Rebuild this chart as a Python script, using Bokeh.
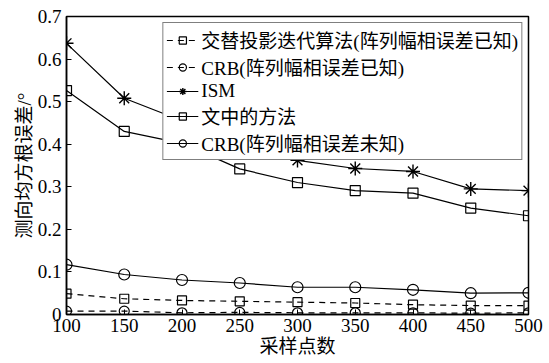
from bokeh.plotting import figure
from bokeh.models import Legend, LegendItem, Range1d, FixedTicker
from bokeh.embed import file_html
from bokeh.resources import INLINE

# Number of samples (snapshots)
samples = [100, 150, 200, 250, 300, 350, 400, 450, 500]

# RMSE of direction estimate (degrees)
alt_proj_known = [0.049, 0.037, 0.033, 0.031, 0.029, 0.027, 0.023, 0.021, 0.021]
crb_known = [0.008, 0.008, 0.004, 0.005, 0.004, 0.004, 0.004, 0.003, 0.004]
ism = [0.637, 0.508, 0.455, 0.380, 0.362, 0.343, 0.336, 0.295, 0.291]
proposed = [0.526, 0.430, 0.402, 0.342, 0.310, 0.291, 0.285, 0.250, 0.232]
crb_unknown = [0.117, 0.094, 0.081, 0.074, 0.064, 0.064, 0.058, 0.050, 0.051]

series_names = [
    "交替投影迭代算法(阵列幅相误差已知)",
    "CRB(阵列幅相误差已知)",
    "ISM",
    "文中的方法",
    "CRB(阵列幅相误差未知)",
]
x_ticks = [100, 150, 200, 250, 300, 350, 400, 450, 500]
y_ticks = [0, 0.1, 0.2, 0.3, 0.4, 0.5, 0.6, 0.7]
x_title = "采样点数"
y_title = "测向均方根误差/°"

FONT = "'Liberation Serif', 'Noto Sans CJK SC', serif"

p = figure(
    width=549, height=363,
    output_backend="svg", toolbar_location=None,
    x_range=Range1d(100, 500), y_range=Range1d(0, 0.7),
    min_border_left=66, min_border_right=21,
    min_border_top=16, min_border_bottom=49,
)
p.background_fill_color = "white"
p.border_fill_color = "white"
p.outline_line_color = "black"
p.outline_line_width = 1.5
p.xgrid.visible = False
p.ygrid.visible = False

for ax in (p.xaxis[0], p.yaxis[0]):
    ax.axis_line_width = 1.5
    ax.major_tick_in = 5
    ax.major_tick_out = 0
    ax.minor_tick_line_color = None
    ax.major_label_text_font = FONT
    ax.major_label_text_font_size = "19px"
    ax.major_label_text_color = "black"
    ax.axis_label_text_font = FONT
    ax.axis_label_text_font_size = "19px"
    ax.axis_label_text_font_style = "normal"
    ax.axis_label_text_color = "black"

p.xaxis.ticker = FixedTicker(ticks=x_ticks)
p.yaxis.ticker = FixedTicker(ticks=y_ticks)
p.yaxis.major_label_overrides = {0: "0"}
p.xaxis.major_label_standoff = 4
p.yaxis.major_label_standoff = 5
p.xaxis.axis_label = x_title
p.yaxis.axis_label = y_title
p.xaxis.axis_label_standoff = 1
p.yaxis.axis_label_standoff = 0

LW = 1.2
DASH = "6 5"

r1l = p.line(samples, alt_proj_known, line_color="black", line_width=LW, line_dash=DASH)
r1m = p.scatter(samples, alt_proj_known, marker="square", size=9,
                line_color="black", fill_color=None, line_width=LW)
r2l = p.line(samples, crb_known, line_color="black", line_width=LW, line_dash=DASH)
r2m = p.scatter(samples, crb_known, marker="circle", size=10,
                line_color="black", fill_color=None, line_width=LW)
r3l = p.line(samples, ism, line_color="black", line_width=LW)
r3m = p.scatter(samples, ism, marker="asterisk", size=14,
                line_color="black", line_width=1.4)
r4l = p.line(samples, proposed, line_color="black", line_width=LW)
r4m = p.scatter(samples, proposed, marker="square", size=10,
                line_color="black", fill_color=None, line_width=LW)
r5l = p.line(samples, crb_unknown, line_color="black", line_width=LW)
r5m = p.scatter(samples, crb_unknown, marker="circle", size=11,
                line_color="black", fill_color=None, line_width=LW)

items = [
    LegendItem(label=series_names[0], renderers=[r1l, r1m]),
    LegendItem(label=series_names[1], renderers=[r2l, r2m]),
    LegendItem(label=series_names[2], renderers=[r3l, r3m]),
    LegendItem(label=series_names[3], renderers=[r4l, r4m]),
    LegendItem(label=series_names[4], renderers=[r5l, r5m]),
]
legend = Legend(
    items=items, location="top_right",
    margin=6, padding=3, spacing=0,
    glyph_width=32, glyph_height=18, label_height=18,
    label_standoff=3,
    label_text_font=FONT, label_text_font_size="19px",
    label_text_color="black",
    border_line_color="black", border_line_width=1.5,
    background_fill_color="white", background_fill_alpha=1.0,
)
p.add_layout(legend)

open("out.html", "w").write(file_html(p, INLINE))
